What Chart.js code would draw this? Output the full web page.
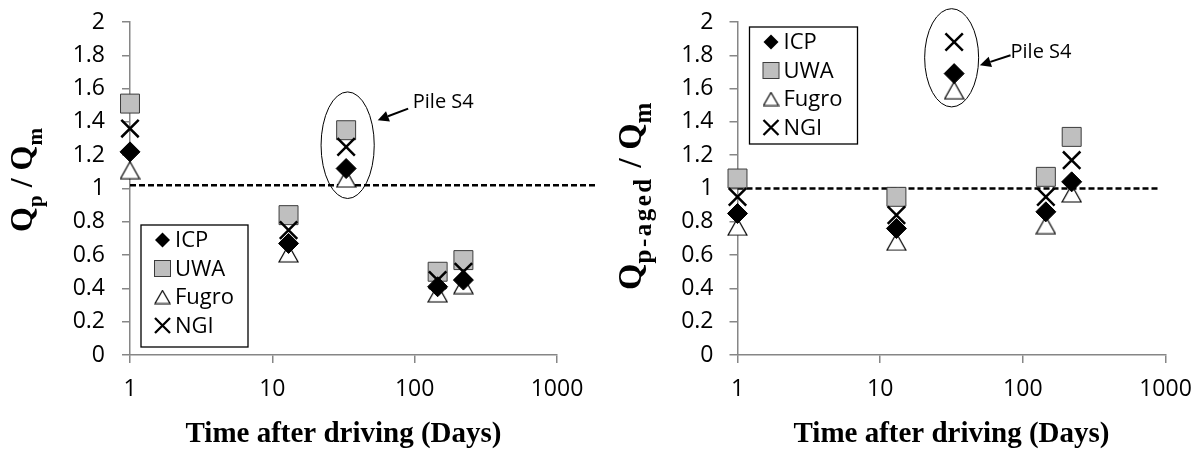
<!DOCTYPE html>
<html>
<head>
<meta charset="utf-8">
<script src="https://cdn.jsdelivr.net/npm/chart.js@4.4.1/dist/chart.umd.min.js"></script>
<style>
  body { margin: 0; background: #fff; }
  #wrap { position: relative; width: 1195px; height: 451px; }
  canvas { position: absolute; top: 0; }
  #left { left: 0; }
  #right { left: 600px; }
</style>
</head>
<body>
<div id="wrap">
  <canvas id="left" width="600" height="451"></canvas>
  <canvas id="right" width="595" height="451"></canvas>
</div>
<script>
// time after driving (days), same piles on both charts
const days = [1, 13, 33, 145, 220];
const xTicks = [1, 10, 100, 1000];
const seriesNames = ['ICP', 'UWA', 'Fugro', 'NGI'];

// left chart : Qp / Qm
const icpLeft   = [1.22, 0.67, 1.12, 0.41, 0.45];
const uwaLeft   = [1.51, 0.84, 1.35, 0.50, 0.57];
const fugroLeft = [1.11, 0.61, 1.06, 0.37, 0.42];
const ngiLeft   = [1.36, 0.75, 1.25, 0.45, 0.50];

// right chart : Qp-aged / Qm  (UWA for pile S4 is off the chart)
const icpRight   = [0.85, 0.76, 1.69, 0.86, 1.04];
const uwaRight   = [1.06, 0.95, null, 1.07, 1.31];
const fugroRight = [0.77, 0.68, 1.59, 0.78, 0.97];
const ngiRight   = [0.95, 0.84, 1.88, 0.95, 1.17];

// dashed reference lines
const refXLeft = [1, 1900];
const refYLeft = [1.02, 1.02];
const refXRight = [1, 900];
const refYRight = [1.0, 1.0];

/* ── excel-like open triangle marker ── */
function triangleCanvas(w, h) {
  const c = document.createElement('canvas');
  c.width = w; c.height = h;
  const g = c.getContext('2d');
  g.beginPath();
  g.moveTo(w / 2, 1);
  g.lineTo(w - 1, h - 1);
  g.lineTo(1, h - 1);
  g.closePath();
  g.fillStyle = '#fff';
  g.fill();
  g.lineWidth = 1.2;
  g.strokeStyle = '#000';
  g.stroke();
  return c;
}
const triBig = triangleCanvas(21, 19);
const triSmall = triangleCanvas(17, 15);

function pts(ys) {
  return days.map((d, i) => ({ x: d, y: ys[i] }));
}

/* legend markers, drawn by hand */
function legendMarker(ctx, kind, x, y) {
  ctx.save();
  if (kind === 'ICP') {
    const r = 7.5;
    ctx.beginPath();
    ctx.moveTo(x, y - r); ctx.lineTo(x + r, y); ctx.lineTo(x, y + r); ctx.lineTo(x - r, y);
    ctx.closePath();
    ctx.fillStyle = '#000'; ctx.fill();
  } else if (kind === 'UWA') {
    ctx.fillStyle = '#bfbfbf';
    ctx.fillRect(x - 8, y - 8, 16, 16);
    ctx.lineWidth = 1; ctx.strokeStyle = '#3c3c3c';
    ctx.strokeRect(x - 8, y - 8, 16, 16);
  } else if (kind === 'Fugro') {
    ctx.drawImage(triSmall, x - triSmall.width / 2, y - triSmall.height / 2);
  } else {
    const h = 7.5;
    ctx.beginPath();
    ctx.moveTo(x - h, y - h); ctx.lineTo(x + h, y + h);
    ctx.moveTo(x + h, y - h); ctx.lineTo(x - h, y + h);
    ctx.lineWidth = 2.3; ctx.strokeStyle = '#000'; ctx.stroke();
  }
  ctx.restore();
}

/* titles with subscripts, ellipse + arrow note, boxed legend */
const decor = {
  id: 'decor',
  afterDraw(chart, args, o) {
    const ctx = chart.ctx;
    const xs = chart.scales.x, ys = chart.scales.y;
    const px = v => xs.getPixelForValue(v);
    const py = v => ys.getPixelForValue(v);
    const area = chart.chartArea;
    ctx.save();

    // rotated y title
    let total = 0;
    const fontOf = p => 'bold ' + (p[1] ? o.subSize : o.mainSize) + 'px "Liberation Serif"';
    o.yTitle.forEach(p => {
      ctx.font = fontOf(p);
      ctx.letterSpacing = p[1] ? o.subSpacing + 'px' : '0px';
      total += ctx.measureText(p[0]).width;
    });
    ctx.translate(o.yTitleX, o.yTitleY);
    ctx.rotate(-Math.PI / 2);
    ctx.fillStyle = '#000';
    ctx.textBaseline = 'alphabetic';
    ctx.textAlign = 'left';
    let pos = -total / 2;
    o.yTitle.forEach(p => {
      ctx.font = fontOf(p);
      ctx.letterSpacing = p[1] ? o.subSpacing + 'px' : '0px';
      ctx.fillText(p[0], pos, p[1] ? 10 : 0);
      pos += ctx.measureText(p[0]).width;
    });
    ctx.letterSpacing = '0px';
    ctx.setTransform(1, 0, 0, 1, 0, 0);

    // ellipse round pile S4
    const e = o.ellipse;
    const ex0 = px(e[0]), ex1 = px(e[1]), ey0 = py(e[3]), ey1 = py(e[2]);
    ctx.beginPath();
    ctx.ellipse((ex0 + ex1) / 2, (ey0 + ey1) / 2, (ex1 - ex0) / 2, (ey1 - ey0) / 2, 0, 0, Math.PI * 2);
    ctx.lineWidth = 1;
    ctx.strokeStyle = '#000';
    ctx.stroke();

    // arrow
    const tx = px(o.arrowFrom[0]), ty = py(o.arrowFrom[1]);
    const hx = px(o.arrowTo[0]), hy = py(o.arrowTo[1]);
    const ang = Math.atan2(hy - ty, hx - tx);
    const len = 11, half = 5.5;
    const bx = hx - Math.cos(ang) * len, by = hy - Math.sin(ang) * len;
    ctx.beginPath();
    ctx.moveTo(tx, ty); ctx.lineTo(bx, by);
    ctx.lineWidth = 2;
    ctx.stroke();
    ctx.beginPath();
    ctx.moveTo(hx, hy);
    ctx.lineTo(bx + Math.sin(ang) * half, by - Math.cos(ang) * half);
    ctx.lineTo(bx - Math.sin(ang) * half, by + Math.cos(ang) * half);
    ctx.closePath();
    ctx.fillStyle = '#000';
    ctx.fill();

    ctx.font = '20px "Open Sans"';
    ctx.textBaseline = 'middle';
    ctx.fillText('Pile S4', px(o.label[0]), py(o.label[1]));

    // legend box
    const L = o.legend;
    const lx = area.left + L.dx;
    ctx.fillStyle = '#fff';
    ctx.fillRect(lx, L.top, L.w, L.h);
    ctx.lineWidth = 1.3;
    ctx.strokeStyle = '#000';
    ctx.strokeRect(lx, L.top, L.w, L.h);
    ctx.font = '22px "Open Sans"';
    ctx.fillStyle = '#000';
    ctx.textBaseline = 'middle';
    seriesNames.forEach((name, i) => {
      const yy = L.top + 15 + i * 28.5;
      legendMarker(ctx, name, lx + 21.5, yy);
      ctx.fillStyle = '#000';
      ctx.fillText(name, lx + 34, yy + 1);
    });

    ctx.restore();
  }
};

function makeChart(id, c) {
  const axisGray = '#868686';
  return new Chart(document.getElementById(id), {
    type: 'scatter',
    data: {
      datasets: [
        { label: 'NGI', data: pts(c.ngi), pointStyle: 'crossRot', pointRadius: 12.3,
          borderColor: '#000', backgroundColor: '#000', borderWidth: 2.5, order: 1, clip: false },
        { label: 'ICP', data: pts(c.icp), pointStyle: 'rectRot', pointRadius: 10,
          borderColor: '#000', backgroundColor: '#000', borderWidth: 1, order: 2, clip: false },
        { label: 'Fugro', data: pts(c.fugro), pointStyle: triBig, pointRadius: 10,
          borderWidth: 0, order: 3, clip: false },
        { label: 'UWA', data: pts(c.uwa), pointStyle: 'rect', pointRadius: 13.4,
          borderColor: '#3c3c3c', backgroundColor: '#bfbfbf', borderWidth: 1, order: 4, clip: false },
        { label: 'ref', data: c.refX.map((x, i) => ({ x: x, y: c.refY[i] })), showLine: true,
          pointRadius: 0, borderColor: '#000', borderWidth: 2.5, borderDash: [6, 3], order: 5, clip: false }
      ]
    },
    options: {
      responsive: false,
      animation: false,
      layout: { padding: { top: 22, right: c.padRight, bottom: 0, left: 0 } },
      plugins: {
        legend: { display: false },
        tooltip: { enabled: false },
        decor: c.decor
      },
      scales: {
        x: {
          type: 'logarithmic',
          min: 1, max: 1000,
          // fixed axis band; label overflow handled by layout padding
          afterFit: s => { s.height = 96; s.paddingLeft = 0; s.paddingRight = 0; },
          afterBuildTicks: s => { s.ticks = xTicks.map(v => ({ value: v })); },
          ticks: { callback: v => String(v), color: '#000', font: { family: 'Open Sans', size: 23 },
                   padding: 13, maxRotation: 0, autoSkip: false },
          grid: { drawOnChartArea: false, drawTicks: true, tickLength: 8, color: axisGray, lineWidth: 1.5 },
          border: { display: true, color: axisGray, width: 1.5 },
          title: { display: true, text: 'Time after driving (Days)', color: '#000',
                   font: { family: 'Liberation Serif', weight: 'bold', size: 29, lineHeight: 1 },
                   padding: { top: 0, bottom: 1.5 } }
        },
        y: {
          min: 0, max: 2,
          afterFit: s => { s.width = c.axisLeft; s.paddingTop = 0; s.paddingBottom = 0; },
          ticks: { stepSize: 0.2, callback: v => String(Math.round(v * 10) / 10), color: '#000',
                   font: { family: 'Open Sans', size: 23 }, padding: c.tickPad },
          grid: { drawOnChartArea: false, drawTicks: true, tickLength: 8, color: axisGray, lineWidth: 1.5 },
          border: { display: true, color: axisGray, width: 1.5 }
        }
      }
    },
    plugins: [decor]
  });
}

makeChart('left', {
  icp: icpLeft, uwa: uwaLeft, fugro: fugroLeft, ngi: ngiLeft,
  refX: refXLeft, refY: refYLeft,
  axisLeft: 130, padRight: 43, tickPad: 17,
  decor: {
    yTitle: [['Q', false], ['p', true], [' / Q', false], ['m', true]],
    mainSize: 32, subSize: 21, subSpacing: 0,
    yTitleX: 32, yTitleY: 180,
    ellipse: [22, 52, 0.94, 1.58],
    arrowFrom: [90, 1.48], arrowTo: [55, 1.41], label: [97, 1.52],
    legend: { dx: 11, top: 225, w: 107, h: 122 }
  }
});

makeChart('right', {
  icp: icpRight, uwa: uwaRight, fugro: fugroRight, ngi: ngiRight,
  refX: refXRight, refY: refYRight,
  axisLeft: 137.5, padRight: 29.5, tickPad: 16,
  decor: {
    yTitle: [['Q', false], ['p-aged', true], [' / Q', false], ['m', true]],
    mainSize: 34, subSize: 25, subSpacing: 2.5,
    yTitleX: 41, yTitleY: 195,
    ellipse: [20.5, 49, 1.49, 2.08],
    arrowFrom: [82, 1.80], arrowTo: [50, 1.74], label: [82, 1.82],
    legend: { dx: 12, top: 27, w: 108, h: 117 }
  }
});
</script>
</body>
</html>
